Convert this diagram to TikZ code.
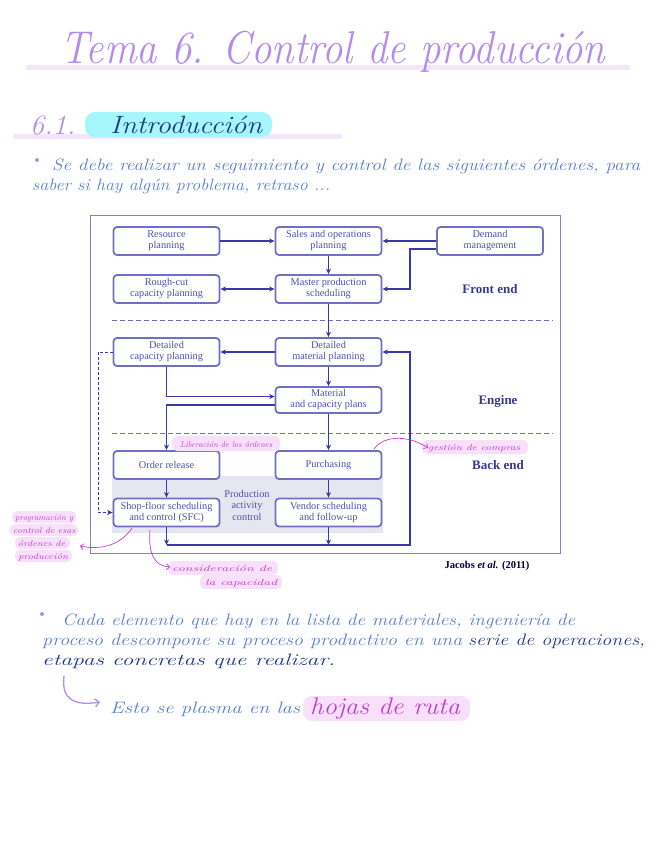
\documentclass[tikz,border=0pt]{standalone}
\usepackage{fontspec}
\usepackage{graphicx}
\newfontfamily\diag{Liberation Serif}
\usetikzlibrary{arrows.meta,calc}
\definecolor{titlec}{HTML}{B48CEB}
\definecolor{bandc}{HTML}{F3E6FB}
\definecolor{cyanhl}{HTML}{A6F7FB}
\definecolor{bluehand}{HTML}{5B7FD4}
\definecolor{navy}{HTML}{1F3A8C}
\definecolor{mag}{HTML}{C23FCF}
\definecolor{pinkhl}{HTML}{F8E0FA}
\definecolor{boxc}{HTML}{7070C2}
\definecolor{boxtext}{HTML}{5050A8}
\definecolor{arrc}{HTML}{3838A8}
\definecolor{pacshade}{HTML}{E6E6F0}
\definecolor{labc}{HTML}{383890}
\definecolor{framec}{HTML}{8282C4}
\newcommand{\fitw}[2]{\resizebox{#1}{\height}{#2}}
\begin{document}
\begin{tikzpicture}[x=1pt,y=-1pt,
 box/.style={draw=boxc, line width=1.8pt, rounded corners=3.5pt, fill=white, minimum width=106pt, minimum height=28pt, align=center, text=boxtext, font=\diag\fontsize{10.3}{11}\selectfont, inner sep=0.5pt},
 tip/.style={-{Stealth[length=5.5pt,width=5pt]}},
 arr/.style={draw=arrc, line width=1.2pt, tip},
 sep/.style={draw=boxc, line width=0.9pt, dash pattern=on 5pt off 3pt},
 lab/.style={font=\diag\bfseries\fontsize{13}{14}\selectfont, text=labc},
 hand/.style={font=\itshape\fontsize{16.5}{16.5}\selectfont, inner sep=0pt, anchor=base west},
 note/.style={hand, font=\itshape\fontsize{8.5}{8.5}\selectfont, text=mag},
 hl/.style={fill=pinkhl, rounded corners=5pt},
 notearr/.style={draw=mag, line width=0.7pt, -{Straight Barb[length=3pt]}}
]
\useasboundingbox (0,0) rectangle (655,848);
\fill[white] (0,0) rectangle (655,848);

% ---------- header ----------
\draw[bandc, line width=5pt, line cap=round] (28,68) -- (628,68);
\node[hand, text=titlec, font=\itshape\fontsize{46}{46}\selectfont] (title) at (60,64) {\fitw{545pt}{Tema 6. Control de producción}};
\draw[bandc, line width=5pt, line cap=round] (15,136) -- (340,136);
\fill[cyanhl, rounded corners=10pt] (85,112) rectangle (272,137);
\node[hand, text=titlec, font=\itshape\fontsize{28}{28}\selectfont] (sec) at (30,134) {\fitw{45pt}{6.1.}};
\node[hand, text=navy, font=\itshape\fontsize{25}{25}\selectfont] (intro) at (110,133) {\fitw{152pt}{Introducción}};
\fill[titlec] (37,160) circle (2pt);
\node[hand, text=bluehand] (b1l1) at (52,170) {\fitw{588pt}{Se debe realizar un seguimiento y control de las siguientes órdenes, para}};
\node[hand, text=bluehand] (b1l2) at (32,190) {\fitw{298pt}{saber si hay algún problema, retraso ...}};

% ---------- diagram ----------
\draw[framec, line width=1pt] (90,215) rectangle (560,553);
\fill[pacshade] (112,476) rectangle (383,533);
\draw[sep] (112,320) -- (553,320);
\draw[sep] (112,433) -- (553,433);

\node[box] (rp)  at (166.5,241) {Resource\\planning};
\node[box] (sop) at (328.5,241) {Sales and operations\\planning};
\node[box] (dm)  at (490,241)   {Demand\\management};
\node[box] (rc)  at (166.5,289) {Rough-cut\\capacity planning};
\node[box] (mps) at (328.5,289) {Master production\\scheduling};
\node[box] (dcp) at (166.5,352) {Detailed\\capacity planning};
\node[box] (dmp) at (328.5,352) {Detailed\\material planning};
\node[box, minimum height=26pt] (mcp) at (328.5,400) {Material\\and capacity plans};
\node[box] (or)  at (166.5,465) {Order release};
\node[box] (pu)  at (328.5,465) {Purchasing};
\node[box] (sfc) at (166.5,512.5) {Shop-floor scheduling\\and control (SFC)};
\node[box] (vs)  at (328.5,512.5) {Vendor scheduling\\and follow-up};
\node[align=center, text=boxtext, font=\diag\fontsize{10.3}{11.5}\selectfont] (pac) at (247,505) {Production\\activity\\control};

\node[lab] (fe) at (490,289) {Front end};
\node[lab] (en) at (498,401) {Engine};
\node[lab] (be) at (498,465) {Back end};
\node[font=\diag\bfseries\fontsize{10.5}{11}\selectfont, text=black!80!blue] (src) at (487,566) {Jacobs \textit{et al.} (2011)};

\coordinate (k1) at (410,289);
\coordinate (c1) at (166.5,545);
\coordinate (c2) at (328.5,545);
\coordinate (c3) at (410,545);
\coordinate (d1) at (98,352);

\draw[arr] (rp) -- (sop);
\draw[arr] (dm.west) -- (sop.east);
\draw[arr] ($(dm.west)+(0,8)$) -| (k1) -- (mps.east);
\draw[arr] (sop) -- (mps);
\draw[draw=arrc, line width=1.2pt, {Stealth[length=5.5pt,width=5pt]}-{Stealth[length=5.5pt,width=5pt]}] (rc) -- (mps);
\draw[arr] (mps) -- (dmp);
\draw[arr] (dmp) -- (dcp);
\draw[arr] (dmp) -- (mcp);
\draw[arr] (dcp.south) |- ($(mcp.west)+(0,-3.5)$);
\draw[arr] ($(mcp.west)+(0,5)$) -| (or.north);
\draw[arr] (mcp) -- (pu);
\draw[arr] (or) -- (sfc);
\draw[arr] (pu) -- (vs);
\draw[arr] (sfc.south) -- (c1);
\draw[arr] (vs.south) -- (c2);
\draw[arr] (c1) -- (c3) |- (dmp.east);
\draw[draw=arrc, line width=1pt, dash pattern=on 3pt off 2pt, tip] (dcp.west) -- (d1) |- (sfc.west);

% ---------- annotations ----------
\fill[hl] (172,436) rectangle (280,451);
\node[note] (n1) at (180,447) {\fitw{92pt}{Liberación de los órdenes}};
\fill[hl] (422,440) rectangle (528,454);
\node[note] (n2) at (428,450) {\fitw{92pt}{gestión de compras}};
\draw[notearr] (374,449) .. controls (385,434) and (410,436) .. (n2.west);

\fill[hl] (12,511) rectangle (76,523);
\fill[hl] (10,524) rectangle (78,536);
\fill[hl] (15,537) rectangle (70,549);
\fill[hl] (15,550) rectangle (72,562);
\node[note] (n3a) at (15,520) {\fitw{58pt}{programación y}};
\node[note] (n3b) at (13,533) {\fitw{62pt}{control de esas}};
\node[note] (n3c) at (18,546) {\fitw{47pt}{órdenes de}};
\node[note] (n3d) at (18,559) {\fitw{50pt}{producción}};
\draw[notearr] (132,528) .. controls (120,546) and (100,550) .. (80,546);

\fill[hl] (168,561) rectangle (278,575);
\fill[hl] (200,575) rectangle (282,589);
\node[note] (n4a) at (172,571) {\fitw{100pt}{consideración de}};
\node[note] (n4b) at (205,585) {\fitw{72pt}{la capacidad}};
\draw[notearr] (150,530) .. controls (148,555) and (155,566) .. (170,567);

% ---------- bottom text ----------
\fill[titlec] (42,614) circle (2pt);
\node[hand, text=bluehand] (l1) at (62,625) {\fitw{513pt}{Cada elemento que hay en la lista de materiales, ingeniería de}};
\node[hand, text=bluehand] (l2) at (42,645) {\fitw{420pt}{proceso descompone su proceso productivo en una}};
\node[hand, text=navy] (l2b) at (468,645) {\fitw{177pt}{serie de operaciones,}};
\node[hand, text=navy] (l3) at (42,665) {\fitw{293pt}{etapas concretas que realizar.}};
\draw[titlec, line width=1.3pt, line cap=round, -{Straight Barb[length=4pt]}] (64,676) .. controls (61,700) and (75,706) .. (100,702);
\node[hand, text=bluehand] (l4) at (110,713) {\fitw{190pt}{Esto se plasma en las}};
\fill[pinkhl, rounded corners=9pt] (303,696) rectangle (470,721);
\node[hand, text=mag, font=\itshape\fontsize{24}{24}\selectfont] (l4b) at (310,714) {\fitw{150pt}{hojas de ruta}};
\end{tikzpicture}
\end{document}
